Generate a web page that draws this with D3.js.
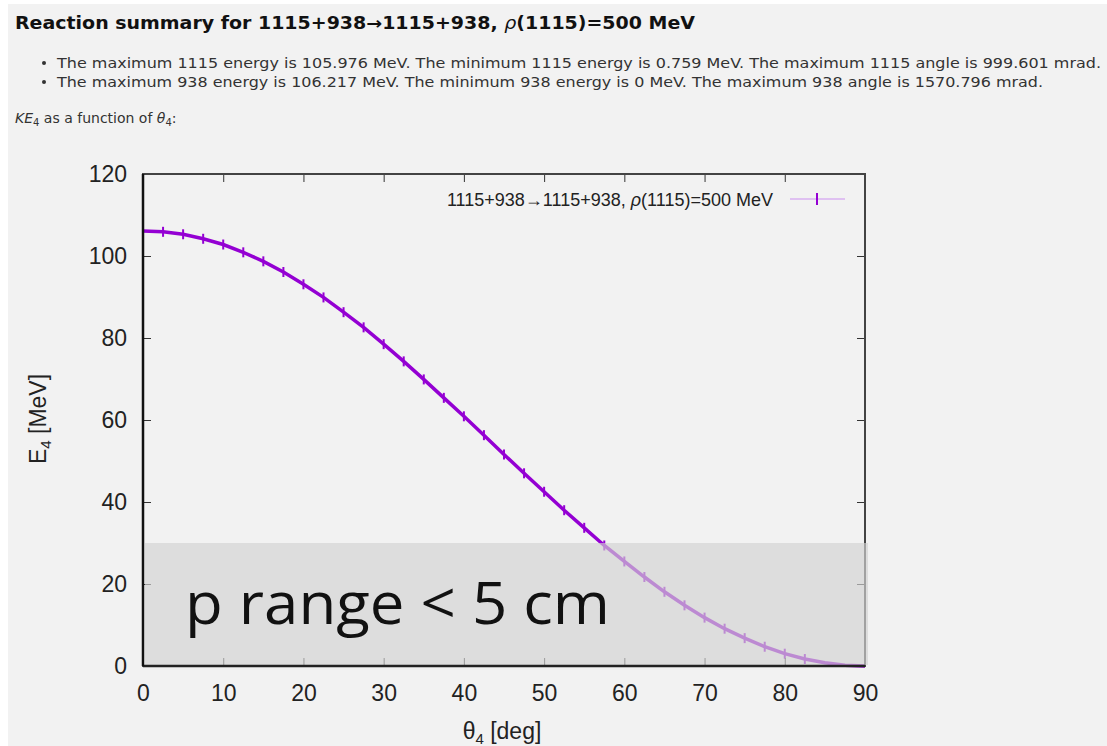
<!DOCTYPE html>
<meta charset="utf-8">
<style>
  body { margin: 0; background: #ffffff; }
  svg { display: block; }
</style>
<div id="chart"></div>
<script src="https://cdn.jsdelivr.net/npm/d3@7"></script>
<script>

// data: recoil angle (deg) and kinetic energy (MeV)
var theta = [0, 2.5, 5, 7.5, 10, 12.5, 15, 17.5, 20, 22.5, 25, 27.5, 30, 32.5, 35, 37.5,
             40, 42.5, 45, 47.5, 50, 52.5, 55, 57.5, 60, 62.5, 65, 67.5, 70, 72.5, 75,
             77.5, 80, 82.5, 85, 87.5, 90]
var energy = [106.1, 105.9, 105.3, 104.2, 102.8, 100.9, 98.7, 96.1, 93.1, 89.9, 86.3, 82.6,
              78.5, 74.3, 69.9, 65.4, 60.9, 56.3, 51.6, 47.0, 42.5, 38.0, 33.7, 29.4, 25.5,
              21.7, 18.1, 14.8, 11.8, 9.1, 6.8, 4.7, 3.0, 1.7, 0.8, 0.2, 0]

var xTicks = [0, 10, 20, 30, 40, 50, 60, 70, 80, 90]
var yTicks = [0, 20, 40, 60, 80, 100, 120]
var rangeCut = 30   // top of the shaded "p range < 5 cm" band, MeV

var title = "Reaction summary for 1115+938\u21921115+938, "
var bullet1 = "The maximum 1115 energy is 105.976 MeV. The minimum 1115 energy is 0.759 MeV. The maximum 1115 angle is 999.601 mrad."
var bullet2 = "The maximum 938 energy is 106.217 MeV. The minimum 938 energy is 0 MeV. The maximum 938 angle is 1570.796 mrad."
var legendLabel = "1115+938\u21921115+938, "

var W = 1107, H = 746
var margin = {top: 174, right: 242, bottom: 80, left: 143}
var width = W - margin.left - margin.right,
    height = H - margin.top - margin.bottom

var svg = d3.select("#chart").append("svg")
    .attr("width", W)
    .attr("height", H)

// page background (white strip on the top and left edges)
svg.append("rect").attr("x", 8).attr("y", 4).attr("width", W - 8).attr("height", H - 4)
    .attr("fill", "#f2f2f2")

// header text
var t = svg.append("text")
    .attr("x", 15).attr("y", 29)
    .style("font-family", "DejaVu Sans").style("font-weight", "bold").style("font-size", "17px")
    .attr("fill", "#111")
    .attr("textLength", 680).attr("lengthAdjust", "spacingAndGlyphs")
t.append("tspan").text(title)
t.append("tspan").style("font-style", "italic").style("font-weight", "normal").text("\u03C1")
t.append("tspan").text("(1115)=500 MeV")

svg.selectAll(".bullet")
  .data([bullet1, bullet2])
  .enter().append("text")
    .attr("x", 57).attr("y", function(d, i) { return 68 + i * 19 })
    .attr("textLength", function(d, i) { return i == 0 ? 1044 : 986 })
    .attr("lengthAdjust", "spacingAndGlyphs")
    .style("font-family", "DejaVu Sans").style("font-size", "14px")
    .attr("fill", "#333")
    .text(function(d) { return d })
svg.selectAll(".dot")
  .data([0, 1])
  .enter().append("circle")
    .attr("cx", 44).attr("cy", function(d) { return 63 + d * 19 })
    .attr("r", 2).attr("fill", "#333")

var ke = svg.append("text")
    .attr("x", 15).attr("y", 123)
    .style("font-family", "DejaVu Sans").style("font-size", "14px")
    .attr("fill", "#333")
ke.append("tspan").style("font-style", "italic").text("KE")
ke.append("tspan").attr("dy", 3).style("font-size", "10px").text("4")
ke.append("tspan").attr("dy", -3).text(" as a function of ")
ke.append("tspan").style("font-style", "italic").text("\u03B8")
ke.append("tspan").attr("dy", 3).style("font-size", "10px").text("4")
ke.append("tspan").attr("dy", -3).text(":")

var g = svg.append("g")
    .attr("transform", "translate(" + margin.left + "," + margin.top + ")")

var x = d3.scaleLinear().domain([0, 90]).range([0, width])
var y = d3.scaleLinear().domain([0, 120]).range([height, 0])

// curve with small error-bar ticks
var pts = theta.map(function(d, i) { return {t: d, e: energy[i]} })
g.append("path")
    .datum(pts)
    .attr("fill", "none")
    .attr("stroke", "#9400d3")
    .attr("stroke-width", 3.5)
    .attr("d", d3.line().x(function(d) { return x(d.t) }).y(function(d) { return y(d.e) }))
g.selectAll(".err")
  .data(pts.slice(1, -3))
  .enter().append("line")
    .attr("x1", function(d) { return x(d.t) }).attr("x2", function(d) { return x(d.t) })
    .attr("y1", function(d) { return y(d.e) - 5 }).attr("y2", function(d) { return y(d.e) + 5 })
    .attr("stroke", "#9400d3").attr("stroke-width", 2)

// axes
var axisFont = function(sel) {
  sel.selectAll("text")
    .style("font-family", "Liberation Sans, Arial, sans-serif")
    .style("font-size", "23px")
    .attr("fill", "#222")
  sel.selectAll("line").attr("stroke", "#333").attr("stroke-width", 1)
  sel.select(".domain").remove()
}
g.append("g")
    .call(d3.axisLeft(y).tickValues(yTicks).tickSize(-8).tickPadding(16))
    .call(axisFont)
g.append("g")
    .attr("transform", "translate(0," + height + ")")
    .call(d3.axisBottom(x).tickValues(xTicks).tickSize(-8).tickPadding(19))
    .call(axisFont)
g.append("g")
    .call(d3.axisTop(x).tickValues(xTicks).tickSize(-8).tickFormat(""))
    .call(axisFont)
g.append("g")
    .attr("transform", "translate(" + width + ",0)")
    .call(d3.axisRight(y).tickValues(yTicks).tickSize(-8).tickFormat(""))
    .call(axisFont)

// frame
g.append("rect")
    .attr("width", width).attr("height", height)
    .attr("fill", "none").attr("stroke", "#444").attr("stroke-width", 2)

// shaded band over the low-energy part
g.append("rect")
    .attr("x", 2).attr("y", y(rangeCut))
    .attr("width", width + 1).attr("height", y(0) - y(rangeCut) - 1)
    .attr("fill", "#d2d2d2").attr("fill-opacity", 0.66)

g.append("line")
    .attr("x1", 0).attr("x2", width).attr("y1", height).attr("y2", height)
    .attr("stroke", "#222").attr("stroke-width", 2.5)
g.append("line")
    .attr("x1", 0).attr("x2", 0).attr("y1", 0).attr("y2", height)
    .attr("stroke", "#111").attr("stroke-width", 2.5)

g.append("text")
    .attr("x", 42).attr("y", y(rangeCut) + 81)
    .attr("textLength", 425).attr("lengthAdjust", "spacingAndGlyphs")
    .style("font-family", "Open Sans, sans-serif").style("font-size", "59px")
    .attr("fill", "#111")
    .text("p range < 5 cm")

// legend
var lg = g.append("text")
    .attr("x", 773 - margin.left).attr("y", 32)
    .attr("text-anchor", "end")
    .style("font-family", "Liberation Sans, Arial, sans-serif").style("font-size", "18px")
    .attr("fill", "#222")
lg.append("tspan").text(legendLabel)
lg.append("tspan").style("font-style", "italic").text("\u03C1")
lg.append("tspan").text("(1115)=500 MeV")
g.append("line")
    .attr("x1", 790 - margin.left).attr("x2", 845 - margin.left).attr("y1", 25).attr("y2", 25)
    .attr("stroke", "#d9b0f0").attr("stroke-width", 1.5)
g.append("line")
    .attr("x1", 817 - margin.left).attr("x2", 817 - margin.left).attr("y1", 19).attr("y2", 31)
    .attr("stroke", "#9400d3").attr("stroke-width", 2)

// axis labels
var xl = svg.append("text")
    .attr("x", 502).attr("y", 739)
    .attr("text-anchor", "middle")
    .style("font-family", "Liberation Sans, Arial, sans-serif").style("font-size", "23px")
    .attr("fill", "#222")
xl.append("tspan").text("\u03B8")
xl.append("tspan").attr("dy", 5).style("font-size", "15px").text("4")
xl.append("tspan").attr("dy", -5).text(" [deg]")

var yl = svg.append("text")
    .attr("transform", "translate(46,419) rotate(-90)")
    .attr("text-anchor", "middle")
    .style("font-family", "Liberation Sans, Arial, sans-serif").style("font-size", "23px")
    .attr("fill", "#222")
yl.append("tspan").text("E")
yl.append("tspan").attr("dy", 5).style("font-size", "15px").text("4")
yl.append("tspan").attr("dy", -5).text(" [MeV]")

</script>
